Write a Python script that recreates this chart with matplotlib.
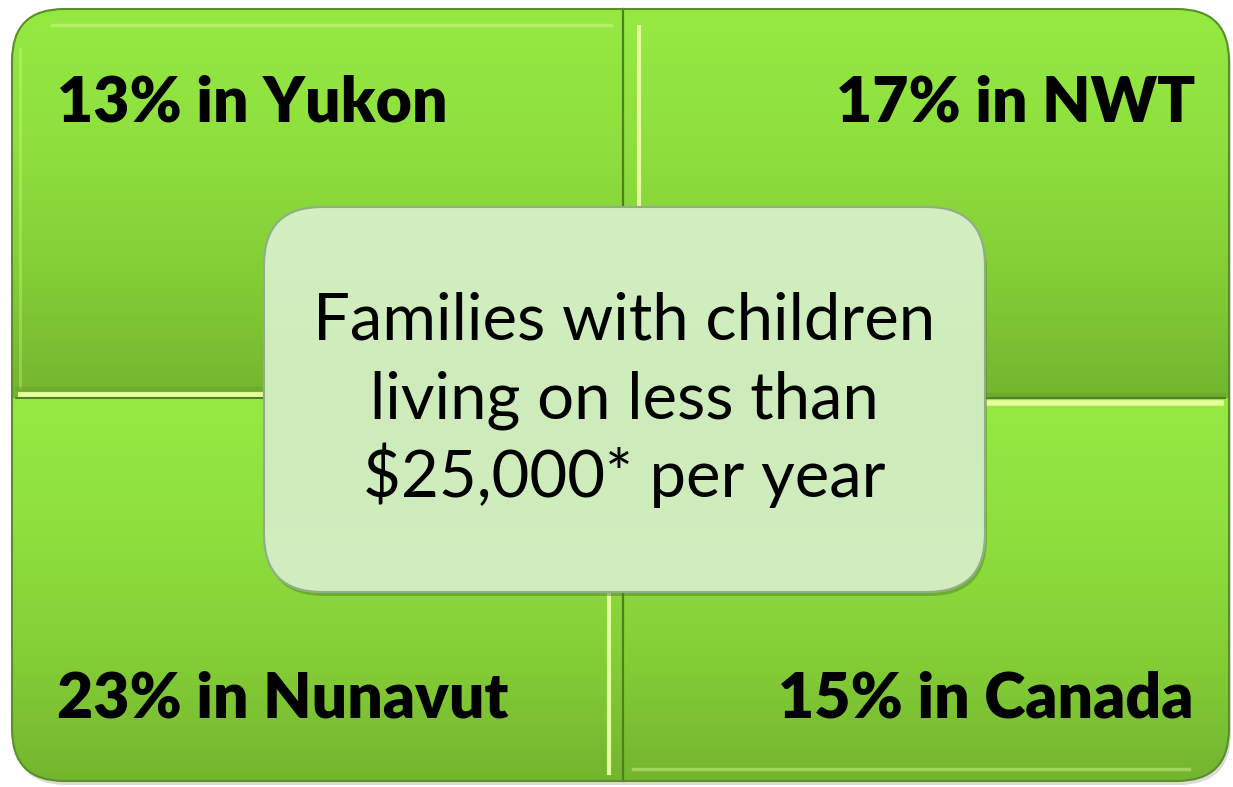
import numpy as np
import matplotlib
matplotlib.use("Agg")
import matplotlib.pyplot as plt
from matplotlib.patches import FancyBboxPatch
from matplotlib.colors import LinearSegmentedColormap

# ---- data ----
region_labels = ["13% in Yukon", "17% in NWT", "23% in Nunavut", "15% in Canada"]
center_lines = ["Families with children", "living on less than", "$25,000* per year"]

W, H = 1233, 787
fig = plt.figure(figsize=(W / 100, H / 100), dpi=100)
ax = fig.add_axes([0, 0, 1, 1])
ax.set_xlim(0, W)
ax.set_ylim(H, 0)
ax.axis("off")

# outer frame
X0, X1, Y0, Y1 = 12, 1229, 9, 781
XS, YS = 623, 398
R = 52

shadow = FancyBboxPatch((X0 + 2, Y0 + 4), X1 - X0, Y1 - Y0,
                        boxstyle=f"round,pad=0,rounding_size={R}",
                        fc="#b8b8b8", ec="none", alpha=0.5, zorder=0)
ax.add_patch(shadow)
outer = FancyBboxPatch((X0, Y0), X1 - X0, Y1 - Y0,
                       boxstyle=f"round,pad=0,rounding_size={R}",
                       fc="none", ec="#5a8f28", lw=1.5, zorder=5)
ax.add_patch(outer)
clip = FancyBboxPatch((X0, Y0), X1 - X0, Y1 - Y0,
                      boxstyle=f"round,pad=0,rounding_size={R}",
                      fc="none", ec="none")
ax.add_patch(clip)

cmap_q = LinearSegmentedColormap.from_list(
    "q", ["#95ea42", "#8fe03e", "#84cf36", "#74b52f"])
grad = np.linspace(0, 1, 256).reshape(-1, 1)
quads = [(X0, XS, Y0, YS), (XS, X1, Y0, YS), (X0, XS, YS, Y1), (XS, X1, YS, Y1)]
for (a, b, c, d) in quads:
    im = ax.imshow(grad, cmap=cmap_q, aspect="auto",
                   extent=(a, b, d, c), zorder=1, interpolation="bilinear")
    im.set_clip_path(clip)

# bevel highlights and seams
hl = "#e6ff9e"
dk = "#4f7f24"
ax.plot([X0 + 40, XS - 12], [Y0 + 16, Y0 + 16], color=hl, lw=2.5, alpha=0.4, zorder=2)
ax.plot([X0 + 8, X0 + 8], [Y0 + 40, YS - 10], color=hl, lw=2, alpha=0.3, zorder=2)
ax.plot([X0 + 8, XS], [YS - 4, YS - 4], color=hl, lw=3.5, zorder=2)
ax.plot([XS + 2, X1 - 8], [YS + 5, YS + 5], color=hl, lw=4, zorder=2)
ax.plot([XS + 16, XS + 16], [Y0 + 18, YS - 4], color=hl, lw=3, zorder=2)
ax.plot([XS - 14, XS - 14], [YS + 4, Y1 - 8], color=hl, lw=3, zorder=2)
ax.plot([XS + 10, X1 - 40], [Y1 - 12, Y1 - 12], color=hl, lw=2.5, alpha=0.4, zorder=2)
ax.plot([X0 + 4, X1 - 4], [YS, YS], color=dk, lw=1.4, zorder=3)
ax.plot([XS, XS], [Y0, Y1], color=dk, lw=1.6, zorder=3)
ax.plot([X0 + 5, XS], [YS - 9, YS - 9], color="#6a9f2c", lw=3, alpha=0.5, zorder=2)
ax.plot([XS, X1 - 5], [YS - 3, YS - 3], color="#6a9f2c", lw=3, alpha=0.5, zorder=2)

# center box
CX0, CX1, CY0, CY1 = 264, 985, 207, 592
CR = 58
csh = FancyBboxPatch((CX0 + 2, CY0 + 4), CX1 - CX0, CY1 - CY0,
                     boxstyle=f"round,pad=0,rounding_size={CR}",
                     fc="#4d7a22", ec="none", alpha=0.45, zorder=6)
ax.add_patch(csh)
cbox = FancyBboxPatch((CX0, CY0), CX1 - CX0, CY1 - CY0,
                      boxstyle=f"round,pad=0,rounding_size={CR}",
                      fc="#d0edbd", ec="#9db890", lw=1.5, zorder=7)
ax.add_patch(cbox)
cmap_c = LinearSegmentedColormap.from_list("c", ["#d4f0c2", "#cdebbb", "#d2eec0"])
imc = ax.imshow(grad, cmap=cmap_c, aspect="auto",
                extent=(CX0, CX1, CY1, CY0), zorder=7.5, interpolation="bilinear")
imc.set_clip_path(cbox)
cedge = FancyBboxPatch((CX0, CY0), CX1 - CX0, CY1 - CY0,
                       boxstyle=f"round,pad=0,rounding_size={CR}",
                       fc="none", ec="#8fae84", lw=1.5, zorder=8)
ax.add_patch(cedge)

# labels
fam = ["Lato", "DejaVu Sans"]
lab_pos = [(57, 122, "left"), (1195, 122, "right"), (57, 718, "left"), (1194, 718, "right")]
for lab, (x, y, ha) in zip(region_labels, lab_pos):
    ax.text(x, y, lab, ha=ha, va="baseline", fontsize=45, fontweight="heavy",
            family=fam, color="black", zorder=10)

line_y = [340, 418, 497]
for ln, y in zip(center_lines, line_y):
    ax.text(624, y, ln, ha="center", va="baseline", fontsize=47,
            family=fam, color="black", zorder=10)

fig.savefig("out.png", dpi=100)
